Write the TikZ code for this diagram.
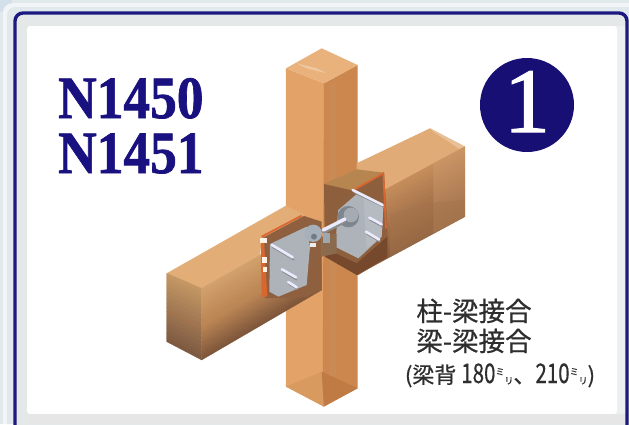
\documentclass[tikz,border=0pt]{standalone}
\usepackage{fontspec}
\usetikzlibrary{calc}
\newfontfamily\cjk[FakeBold=0.6]{Noto Sans CJK JP}
\newfontfamily\titlefont[FakeBold=1.2]{Liberation Serif Bold}
\newfontfamily\onefont[FakeBold=1.5]{Liberation Serif}
\definecolor{navy}{HTML}{1A1180}
\definecolor{frameblue}{HTML}{1C1A80}
\definecolor{bandgray}{HTML}{E4E8E9}
\definecolor{outerbg}{HTML}{E2E9EC}
\definecolor{plategray}{HTML}{AEB3BA}
\definecolor{slot}{HTML}{D9662F}
\definecolor{txtgray}{HTML}{2E2E2E}
\newcommand\hx[1]{\definecolor{#1}{HTML}{#1}}
\hx{C0D2DF}\hx{F1F5F7}\hx{ECEFF0}\hx{E6E6E6}\hx{E2A268}\hx{CB874E}\hx{C98A55}\hx{E9B27D}\hx{F0C8A0}\hx{D99A60}\hx{C07A44}\hx{E0AB76}\hx{E8BF96}\hx{C48C5A}\hx{8A5C3C}\hx{D8A679}\hx{A5754C}\hx{B78650}\hx{8E5F3D}\hx{77492C}\hx{B6BBC1}\hx{7F858C}\hx{A5ABB2}\hx{E3AD77}\hx{C39663}\hx{7E5A41}\hx{D2A06A}\hx{BC8654}\hx{7F563A}\hx{A8744A}\hx{E2A268}\hx{8F6040}\hx{A6B0BA}\hx{727C88}\hx{9EA6AE}\hx{8C6A4E}
\newcommand\gradquad[6]{%
  \foreach \i in {0,...,15}{%
    \pgfmathsetmacro\ta{\i/16}\pgfmathsetmacro\tb{(\i+1)/16}\pgfmathsetmacro\pc{100-\i*100/15}%
    \fill[#5!\pc!#6,draw=#5!\pc!#6,line width=.3pt] ($#1!\ta!#2$) -- ($#1!\tb!#2$) -- ($#4!\tb!#3$) -- ($#4!\ta!#3$) -- cycle;
  }}
\tikzset{
  boltline/.style={white!92!blue,line width=2.6pt,line cap=round},
  boltshadow/.style={black!45,line width=1.2pt,line cap=round},
  maintitle/.style={inner sep=0pt,text=navy,anchor=base west,font=\titlefont\fontsize{60}{60}\selectfont},
  jptext/.style={inner sep=0pt,text=txtgray,anchor=base,font=\cjk\fontsize{26.5}{26.5}\selectfont}
}
\begin{document}
\begin{tikzpicture}[x=1pt,y=-1pt]
\useasboundingbox (0,0) rectangle (629,424);
% background and frame
\fill[outerbg] (0,0) rectangle (629,424);
\fill[C0D2DF!70!white] (0,0) rectangle (12,12);
\fill[F1F5F7] (3,424) -- (3,12) to[out=90,in=180] (14,3) -- (629,3) -- (629,11) -- (14,11) -- (11,14) -- (11,424) -- cycle;
\fill[outerbg] (7,424) -- (7,14) to[out=90,in=180] (16,7) -- (629,7) -- (629,11) -- (14,11) -- (11,14) -- (11,424) -- cycle;
\fill[bandgray,rounded corners=8pt] (15,434) -- (15,13) -- (627,13) -- (627,434) -- cycle;
\fill[ECEFF0] (606,26) rectangle (626,414);
\fill[white,rounded corners=3pt] (27,26) rectangle (617,414);
\fill[E6E6E6] (27,414) rectangle (626,424);
\draw[frameblue,line width=3.4pt,rounded corners=8pt] (15,430) -- (15,13) -- (627,13) -- (627,430);
% texts
\node[maintitle] (t1) at (58,118) {\scalebox{.89}[1]{N1450}};
\node[maintitle] (t2) at (58,173) {\scalebox{.89}[1]{N1451}};
\node[circle,fill=navy!90!black,minimum size=94pt,inner sep=0pt] (badge) at (527,105) {};
\node[inner sep=0pt,text=white,anchor=base,font=\onefont\fontsize{92}{92}\selectfont] (one) at (527,132) {1};
\begin{scope}[x=.3333pt,y=-.3333pt,shift={(150pt,-40pt)}]
% column
\fill[E2A268] (408,85) -- (522,130) -- (522,1100) -- (408,1040) -- cycle;
\fill[CB874E] (522,130) -- (623,75) -- (623,1045) -- (518,1100) -- cycle;
\fill[C98A55] (535,140) -- (560,125) -- (560,1075) -- (535,1090) -- cycle;
\fill[E9B27D] (408,85) -- (515,25) -- (623,75) -- (522,130) -- cycle;
\fill[F0C8A0] (440,70) -- (500,85) -- (530,100) -- (470,85) -- cycle;
\fill[D99A60] (408,1040) -- (515,995) -- (522,1100) -- cycle;
\fill[C07A44] (515,995) -- (623,1045) -- (522,1100) -- cycle;
% right beam
\fill[E0AB76] (620,370) -- (840,265) -- (945,320) -- (620,497) -- cycle;
\fill[E8BF96] (850,275) -- (840,265) -- (945,320) -- (930,328) -- cycle;
\gradquad{(620,495)}{(620,705)}{(945,530)}{(945,320)}{C48C5A}{8A5C3C}
\fill[D8A679,opacity=.3] (850,370) -- (945,320) -- (945,530) -- (850,580) -- cycle;
\fill[A5754C,opacity=.5] (720,525) -- (820,490) -- (945,480) -- (945,530) -- (720,650) -- cycle;
% notch right
\fill[B78650] (522,432) -- (620,388) -- (702,398) -- (610,452) -- cycle;
\fill[8E5F3D] (522,432) -- (610,452) -- (702,398) -- (712,560) -- (712,652) -- (625,705) -- (525,650) -- cycle;
\fill[77492C] (525,625) -- (620,670) -- (712,590) -- (712,652) -- (620,705) -- (525,650) -- cycle;
\draw[slot,line width=1.8pt] (608,452) -- (700,400) -- (708,565);
% right plate
\fill[plategray] (565,510) -- (625,458) -- (700,500) -- (695,590) -- (625,655) -- (555,620) -- cycle;
\fill[B6BBC1] (640,470) -- (700,500) -- (695,590) -- (650,625) -- cycle;
\fill[7F858C] (595,530) circle[radius=32];
\fill[A5ABB2] (603,525) circle[radius=22];
\draw[boltshadow] (612,458) -- (700,500);
\draw[boltline] (608,450) -- (698,495);
\draw[boltshadow] (660,540) -- (697,560);
\draw[boltline] (658,533) -- (695,553);
\draw[boltshadow] (650,582) -- (690,606);
\draw[boltline] (648,575) -- (688,599);
% left beam
\fill[E3AD77] (50,700) -- (408,497) -- (465,525) -- (335,600) -- (330,645) -- (155,745) -- cycle;
\gradquad{(50,700)}{(50,905)}{(155,960)}{(155,745)}{C39663}{7E5A41}
\gradquad{(155,745)}{(155,855)}{(515,645)}{(515,540)}{D2A06A}{BC8654}
\gradquad{(155,855)}{(155,960)}{(515,750)}{(515,645)}{BC8654}{7F563A}
\fill[A8744A,opacity=.5] (60,820) -- (155,870) -- (155,860) -- (60,810) -- cycle;
\fill[E2A268] (465,525) -- (515,540) -- (515,560) -- (470,580) -- cycle;
% left notch
\fill[8F6040] (335,595) -- (462,528) -- (515,545) -- (515,750) -- (470,772) -- (345,775) -- cycle;
\fill[slot] (332,592) -- (342,600) -- (352,770) -- (335,770) -- cycle;
\draw[slot,line width=1.8pt] (335,590) -- (455,527);
% left plate
\fill[plategray] (360,612) -- (470,560) -- (480,620) -- (470,735) -- (385,770) -- (358,755) -- cycle;
\fill[white!90!orange] (330,595) rectangle (352,610);
\fill[white!90!orange] (335,652) rectangle (350,668);
\fill[white!90!orange] (340,682) rectangle (350,695);
\draw[boltshadow] (368,622) -- (432,660);
\draw[boltline] (366,615) -- (428,652);
\draw[boltshadow] (398,695) -- (440,720);
\draw[boltline] (396,688) -- (438,712);
\draw[boltshadow] (416,732) -- (442,748);
\draw[boltline] (415,726) -- (440,742);
% centre link
\fill[8C6A4E] (515,590) -- (560,580) -- (560,640) -- (515,650) -- cycle;
\draw[boltshadow,line width=3pt] (520,578) -- (585,545);
\draw[boltline,line width=3.4pt] (520,570) -- (585,537);
\fill[A6B0BA] (490,580) circle[radius=26];
\fill[727C88] (492,590) circle[radius=9];
\fill[white!85!gray] (480,610) rectangle (498,622);
\fill[9EA6AE] (520,580) rectangle (540,610);
\end{scope}
\node[jptext] (jp1) at (474,321) {柱-梁接合};
\node[jptext] (jp2) at (474,351) {梁-梁接合};
\node[jptext,font=\cjk\fontsize{22}{22}\selectfont] (jp3) at (500,383) {(梁背 \scalebox{.76}[1]{\fontsize{27}{27}\selectfont 180}\raisebox{8pt}{\fontsize{9}{9}\selectfont ミ}\raisebox{-1pt}{\fontsize{9}{9}\selectfont リ}、\scalebox{.76}[1]{\fontsize{27}{27}\selectfont 210}\raisebox{8pt}{\fontsize{9}{9}\selectfont ミ}\raisebox{-1pt}{\fontsize{9}{9}\selectfont リ})};
\end{tikzpicture}
\end{document}
